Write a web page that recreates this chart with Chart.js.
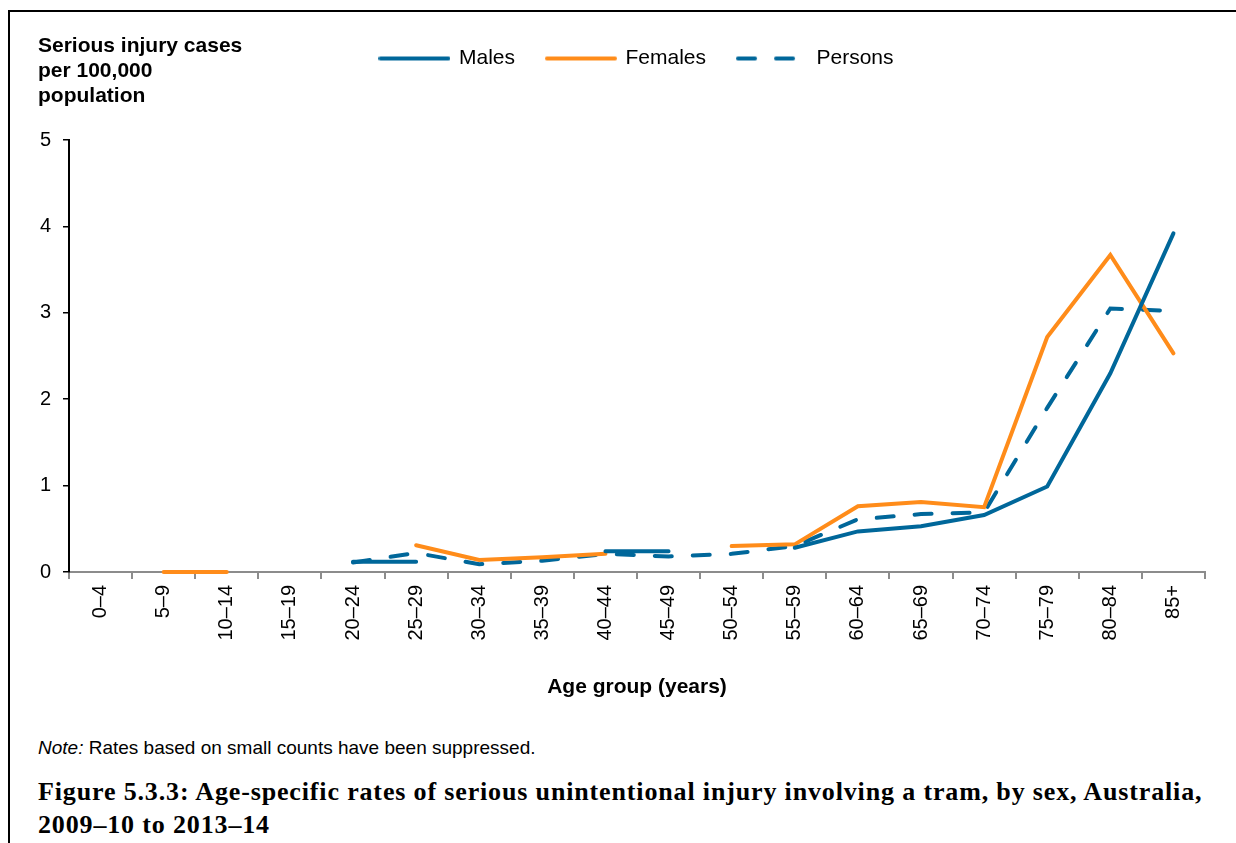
<!DOCTYPE html>
<html>
<head>
<meta charset="utf-8">
<script src="https://cdn.jsdelivr.net/npm/chart.js@4"></script>
<style>
  body { margin: 0; background: #fff; font-family: "Liberation Sans", Arial, sans-serif; }
  #frame { position: absolute; left: 8px; top: 10px; width: 1300px; height: 900px;
           border-left: 2px solid #000; border-top: 2px solid #000; }
  #wrap { position: absolute; left: 0; top: 0; width: 1236px; height: 712px; }
  #ytitle { position: absolute; left: 38px; top: 32px; font-weight: bold; font-size: 21px; line-height: 25px; color: #000; }
  #note { position: absolute; left: 38px; top: 737px; font-size: 19px; line-height: 22px; color: #000; }
  #caption { position: absolute; left: 38px; top: 775px; font-family: "Liberation Serif", serif;
             font-weight: bold; font-size: 26px; letter-spacing: 0.85px; line-height: 33px; color: #000; }
</style>
</head>
<body>
<div id="frame"></div>
<div id="wrap"><canvas id="tram-chart"></canvas></div>
<div id="ytitle">Serious injury cases<br>per 100,000<br>population</div>
<div id="note"><i>Note:</i> Rates based on small counts have been suppressed.</div>
<div id="caption">Figure 5.3.3: Age-specific rates of serious unintentional injury involving a tram, by sex, Australia,<br>2009–10 to 2013–14</div>
<script>
// age groups on the x axis
const ageGroups = ["0–4", "5–9", "10–14", "15–19", "20–24", "25–29", "30–34", "35–39", "40–44",
  "45–49", "50–54", "55–59", "60–64", "65–69", "70–74", "75–79", "80–84", "85+"];

// rates per 100,000 (null = suppressed)
const males = [null, null, null, null, 0.12, 0.12, null, null, 0.24, 0.24, null, 0.28, 0.47, 0.53, 0.66, 0.99, 2.30, 3.92];
const females = [null, 0, 0, null, null, 0.31, 0.14, 0.17, 0.21, null, 0.30, 0.32, 0.76, 0.81, 0.75, 2.72, 3.67, 2.53];
const persons = [null, null, null, null, 0.11, 0.22, 0.09, 0.13, 0.21, 0.18, 0.21, 0.30, 0.61, 0.67, 0.69, 1.90, 3.05, 3.02];

const yTicks = [0, 1, 2, 3, 4, 5];

const blue = "#00679A";
const orange = "#FF8C1A";
const font = "'Liberation Sans', Arial, sans-serif";
const personsDash = [17, 21];

// little line picture used as the legend symbol (so the dash shows up)
function legendLine(color, dash) {
  const c = document.createElement("canvas");
  c.width = 72;
  c.height = 8;
  const ctx = c.getContext("2d");
  ctx.strokeStyle = color;
  ctx.lineWidth = 4;
  ctx.lineCap = "round";
  ctx.setLineDash(dash || []);
  ctx.beginPath();
  ctx.moveTo(2, 4);
  ctx.lineTo(70, 4);
  ctx.stroke();
  return c;
}

// push the plot down below the legend
const legendGap = {
  id: "legendGap",
  beforeInit(chart) {
    const fit = chart.legend.fit;
    chart.legend.fit = function () {
      fit.bind(chart.legend)();
      this.height += 61;
    };
  }
};

function createTramChart() {
  const canvas = document.querySelector("#tram-chart");
  let options = {
    type: "line",
    data: {
      labels: ageGroups,
      datasets: [
        {
          label: "Males",
          data: males,
          borderColor: blue,
          backgroundColor: blue,
          borderWidth: 4,
          borderCapStyle: "round",
          pointRadius: 0,
          pointStyle: legendLine(blue),
          tension: 0,
          clip: false,
        },
        {
          label: "Females",
          data: females,
          borderColor: orange,
          backgroundColor: orange,
          borderWidth: 4,
          borderCapStyle: "round",
          pointRadius: 0,
          pointStyle: legendLine(orange),
          tension: 0,
          clip: false,
        },
        {
          label: "Persons",
          data: persons,
          borderColor: blue,
          backgroundColor: blue,
          borderWidth: 4,
          borderCapStyle: "round",
          borderDash: personsDash,
          pointRadius: 0,
          pointStyle: legendLine(blue, personsDash),
          tension: 0,
          clip: false,
        },
      ],
    },
    options: {
      responsive: true,
      maintainAspectRatio: false,
      animation: false,
      spanGaps: false,
      layout: { padding: { left: 10, right: 31, top: 16, bottom: 0 } },
      scales: {
        x: {
          offset: true,
          afterFit(scale) { scale.height = 140; },
          grid: { display: true, drawOnChartArea: false, offset: true, color: "#8c8c8c", lineWidth: 2, tickLength: 7 },
          border: { color: "#8c8c8c", width: 2 },
          ticks: { color: "#000", font: { family: font, size: 20 }, minRotation: 90, maxRotation: 90, padding: 6, autoSkip: false },
          title: { display: true, text: "Age group (years)", color: "#000", font: { family: font, size: 21, weight: "bold" }, padding: { top: 0, bottom: 12 } },
        },
        y: {
          min: 0,
          max: 5,
          afterFit(scale) { scale.width = 59; },
          afterBuildTicks(scale) { scale.ticks = yTicks.map(v => ({ value: v })); },
          grid: { display: true, drawOnChartArea: false, color: "#000", lineWidth: 1.5, tickLength: 6 },
          border: { color: "#000", width: 2 },
          ticks: { color: "#000", font: { family: font, size: 20 }, padding: 12 },
        },
      },
      plugins: {
        legend: {
          position: "top",
          fullSize: false,
          labels: {
            usePointStyle: true,
            pointStyleWidth: 68,
            color: "#000",
            font: { family: font, size: 21 },
            padding: 32,
          },
        },
        tooltip: { enabled: false },
      },
    },
    plugins: [legendGap],
  };
  const chart = new Chart(canvas.getContext("2d"), options);
}

createTramChart();
</script>
</body>
</html>
